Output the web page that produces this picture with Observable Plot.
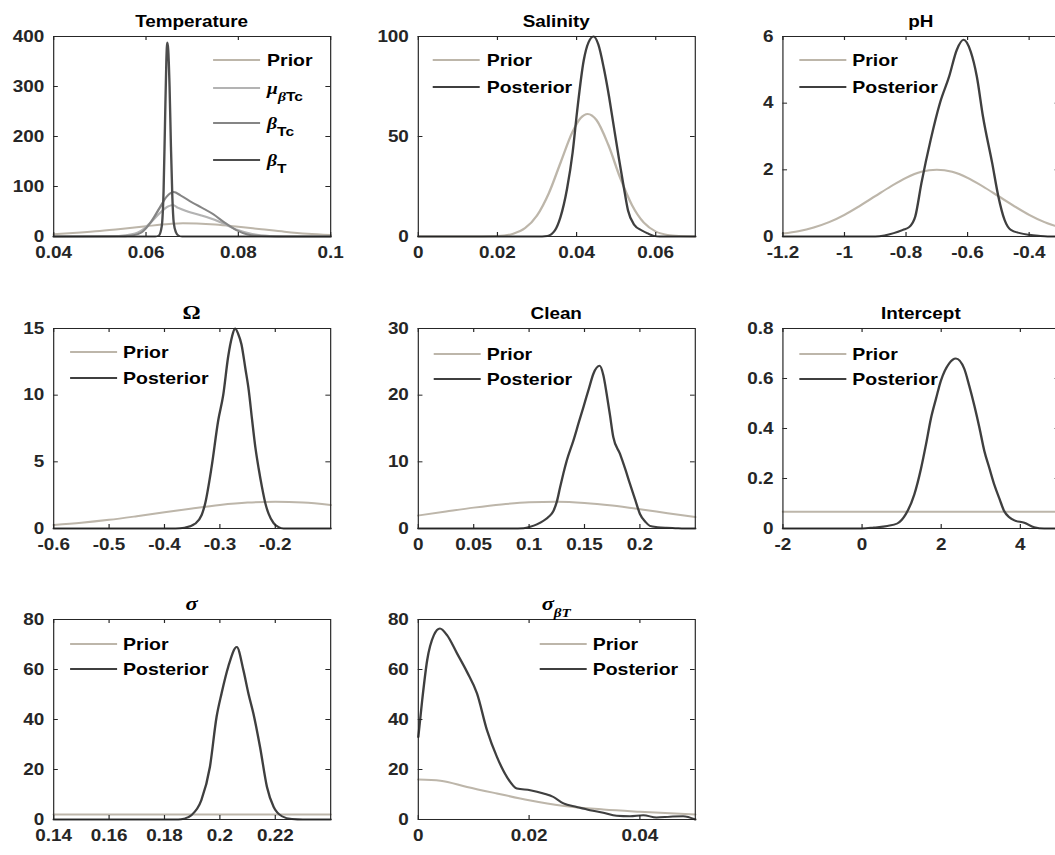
<!DOCTYPE html>
<html><head><meta charset="utf-8">
<script src="https://cdn.jsdelivr.net/npm/d3@7"></script>
<script src="https://cdn.jsdelivr.net/npm/@observablehq/plot@0.6"></script>
<style>
html,body{margin:0;padding:0;background:#fff;overflow:hidden;width:1055px;height:855px;}
#fig{position:absolute;left:0;top:0;width:894px;height:855px;transform:scaleX(1.18);transform-origin:0 0;}
#fig svg{position:absolute;overflow:visible;}
</style></head><body><div id="fig"></div>
<script>
// ---------------- data ----------------
const tempXTicks = [0.04, 0.06, 0.08, 0.1];
const tempYTicks = [0, 100, 200, 300, 400];
const tempPrior = [[0.04,4.5],[0.045,7.5],[0.05,11],[0.055,15.5],[0.06,20.5],[0.065,25],[0.068,26.5],[0.071,26],[0.075,24],[0.08,19.5],[0.085,14.5],[0.09,9.5],[0.095,5.5],[0.1,3]];
const tempMu = [[0.04,0],[0.052,0.5],[0.056,3],[0.059,12],[0.061,28],[0.063,47],[0.0648,60],[0.0658,63],[0.067,57],[0.069,50],[0.072,42],[0.0755,31],[0.0795,14],[0.083,5],[0.087,1],[0.09,0],[0.1,0]];
const tempBetaTc = [[0.04,0],[0.054,0.3],[0.057,2],[0.059,8],[0.061,28],[0.063,58],[0.0645,80],[0.066,89],[0.0675,82],[0.07,68],[0.072,58],[0.0745,45],[0.077,28],[0.0795,13],[0.082,4],[0.085,0.8],[0.088,0],[0.1,0]];
const tempBetaT = [[0.04,0],[0.062,0],[0.0628,2],[0.0634,20],[0.0638,90],[0.0641,220],[0.0644,350],[0.0646,388],[0.0648,375],[0.0651,300],[0.0654,180],[0.0657,80],[0.066,28],[0.0665,8],[0.067,2],[0.0678,0],[0.1,0]];

const salXTicks = [0, 0.02, 0.04, 0.06];
const salYTicks = [0, 50, 100];
const salPrior = [[0,0],[0.016,0.03],[0.02,0.2],[0.024,1.4],[0.027,4.2],[0.03,10.5],[0.033,21.7],[0.036,37.2],[0.039,52.4],[0.041,59.2],[0.0428,61.3],[0.045,58.3],[0.048,45.9],[0.051,29.4],[0.054,15.7],[0.057,6.9],[0.06,2.5],[0.063,0.75],[0.066,0.2],[0.07,0]];
const salPost = [[0,0],[0.03,0],[0.0326,0.3],[0.0345,3],[0.0359,9.5],[0.0376,24],[0.039,42],[0.0401,62],[0.0418,88],[0.043,97],[0.0443,100],[0.0455,96],[0.0469,84],[0.0482,70],[0.0494,55],[0.0507,39],[0.0519,25],[0.053,13],[0.0545,6],[0.0565,3],[0.058,1.5],[0.0595,0.3],[0.061,0],[0.07,0]];

const phXTicks = [-1.2, -1, -0.8, -0.6, -0.4];
const phYTicks = [0, 2, 4, 6];
const phPrior = [[-1.2,0.09],[-1.15,0.16],[-1.1,0.27],[-1.05,0.43],[-1,0.65],[-0.95,0.92],[-0.9,1.21],[-0.85,1.5],[-0.8,1.76],[-0.75,1.94],[-0.7,2],[-0.65,1.94],[-0.6,1.76],[-0.55,1.5],[-0.5,1.21],[-0.45,0.92],[-0.4,0.65],[-0.35,0.43],[-0.3,0.27]];
const phPost = [[-1.2,0],[-0.9,0],[-0.87,0.03],[-0.84,0.1],[-0.81,0.2],[-0.79,0.28],[-0.77,0.6],[-0.75,1.6],[-0.72,2.9],[-0.69,4.0],[-0.66,4.8],[-0.635,5.6],[-0.613,5.9],[-0.59,5.55],[-0.57,4.8],[-0.55,3.6],[-0.52,2.2],[-0.5,1.2],[-0.48,0.5],[-0.46,0.2],[-0.43,0.1],[-0.4,0.05],[-0.37,0.02],[-0.34,0],[-0.3,0]];

const omegaXTicks = [-0.6, -0.5, -0.4, -0.3, -0.2];
const omegaYTicks = [0, 5, 10, 15];
const omegaPrior = [[-0.6,0.27],[-0.55,0.43],[-0.5,0.65],[-0.45,0.92],[-0.4,1.21],[-0.35,1.5],[-0.3,1.76],[-0.25,1.94],[-0.2,2.0],[-0.15,1.94],[-0.1,1.76]];
const omegaPost = [[-0.6,0],[-0.38,0],[-0.364,0.05],[-0.345,0.35],[-0.333,1],[-0.327,1.8],[-0.315,4.6],[-0.303,8.1],[-0.294,10],[-0.285,12.9],[-0.278,14.4],[-0.2727,15],[-0.267,14.6],[-0.261,13.8],[-0.254,12],[-0.248,10.4],[-0.242,8.2],[-0.236,6.1],[-0.23,4.5],[-0.224,3.1],[-0.218,1.9],[-0.212,1.1],[-0.203,0.4],[-0.194,0.1],[-0.185,0],[-0.1,0]];

const cleanXTicks = [0, 0.05, 0.1, 0.15, 0.2];
const cleanYTicks = [0, 10, 20, 30];
const cleanPrior = [[0,1.95],[0.025,2.55],[0.05,3.13],[0.075,3.61],[0.1,3.92],[0.125,4.0],[0.15,3.83],[0.175,3.44],[0.2,2.9],[0.225,2.3],[0.25,1.72]];
const cleanPost = [[0,0],[0.085,0],[0.095,0.05],[0.101,0.25],[0.107,0.6],[0.113,1.15],[0.118,1.8],[0.122,2.65],[0.125,4],[0.128,6.2],[0.131,8.3],[0.134,10.2],[0.14,13.2],[0.145,16],[0.149,18.2],[0.154,21],[0.158,23.2],[0.1637,24.4],[0.167,23],[0.17,20.2],[0.173,17],[0.176,13.7],[0.182,11.2],[0.187,8.8],[0.191,6.7],[0.196,4.2],[0.2,2.2],[0.205,1],[0.209,0.4],[0.216,0.2],[0.224,0.1],[0.232,0.05],[0.24,0],[0.25,0]];

const interceptXTicks = [-2, 0, 2, 4];
const interceptYTicks = [0, 0.2, 0.4, 0.6, 0.8];
const interceptPrior = [[-2,0.0667],[5,0.0667]];
const interceptPost = [[-2,0],[0,0],[0.3,0.004],[0.64,0.01],[0.89,0.02],[1.1,0.056],[1.32,0.136],[1.49,0.24],[1.62,0.34],[1.74,0.44],[1.87,0.52],[1.99,0.59],[2.2,0.66],[2.37,0.68],[2.58,0.64],[2.71,0.57],[2.84,0.49],[2.97,0.4],[3.09,0.31],[3.22,0.24],[3.34,0.176],[3.47,0.12],[3.59,0.07],[3.72,0.045],[3.85,0.032],[4.1,0.023],[4.35,0.005],[4.6,0],[5,0]];

const sigmaXTicks = [0.14, 0.16, 0.18, 0.2, 0.22];
const sigmaYTicks = [0, 20, 40, 60, 80];
const sigmaPrior = [[0.14,2],[0.24,2]];
const sigmaPost = [[0.14,0],[0.185,0],[0.187,0.3],[0.1897,1.7],[0.1933,7.7],[0.1964,21],[0.1988,41],[0.2006,50.4],[0.203,61],[0.2061,69],[0.2085,59.7],[0.2103,50.4],[0.2121,42.4],[0.2145,29],[0.217,13],[0.2194,5],[0.2224,1.3],[0.226,0.2],[0.23,0],[0.24,0]];

const sbtXTicks = [0, 0.02, 0.04];
const sbtYTicks = [0, 20, 40, 60, 80];
const sbtPrior = [[0,16],[0.004,15.5],[0.0088,13],[0.0142,10.4],[0.02,7.7],[0.026,5.5],[0.0334,4],[0.04,3.1],[0.05,2]];
const sbtPost = [[0,33],[0.0007,47.7],[0.0016,63.7],[0.0028,73.7],[0.0039,76.4],[0.0052,73.7],[0.007,66.4],[0.0088,59],[0.0106,50.4],[0.0124,35.7],[0.0142,25],[0.016,17],[0.0178,12.4],[0.0202,11.7],[0.0226,10.4],[0.0244,9],[0.0262,6.4],[0.0286,5],[0.031,3.7],[0.0334,2.7],[0.0358,1.5],[0.0382,1.3],[0.0406,1.7],[0.043,0.8],[0.0454,1.1],[0.0478,1.3],[0.05,0]];

// ---------------- styles & layout ----------------
const S = 1.18;              // horizontal stretch of the whole figure
const FW = 277 / S, FH = 200;
const mL = 50, mR = 14, mT = 42, mB = 34;
const TICK = 4;
const SANS = "'Liberation Sans', Arial, Helvetica, sans-serif";
const SERIF = "'Liberation Serif', 'Times New Roman', serif";
const INK = "#262626";
const C = {prior: "#bdb6aa", post: "#3f3f3f", mu: "#b3b3b3", betaTc: "#858585", betaT: "#4d4d4d"};

const priorPost = (prior, post) => [
  {label: [{t: "Prior"}], data: prior, color: C.prior},
  {label: [{t: "Posterior"}], data: post, color: C.post}
];

const panels = [
  {left: 53, top: 36, xd: [0.04, 0.1], xt: tempXTicks, yd: [0, 400], yt: tempYTicks,
   title: [{t: "Temperature"}],
   series: [
     {label: [{t: "Prior"}], data: tempPrior, color: C.prior},
     {label: [{t: "μ", serif: 1, it: 1}, {t: "β", serif: 1, it: 1, sub: 1}, {t: "Tc", sub: 1}], data: tempMu, color: C.mu},
     {label: [{t: "β", serif: 1, it: 1}, {t: "Tc", sub: 1}], data: tempBetaTc, color: C.betaTc},
     {label: [{t: "β", serif: 1, it: 1}, {t: "T", sub: 1}], data: tempBetaT, color: C.betaT}
   ],
   legend: {x: 160, tx: 214, ys: [24, 52, 87, 124]}},
  {left: 418, top: 36, xd: [0, 0.07], xt: salXTicks, yd: [0, 100], yt: salYTicks,
   title: [{t: "Salinity"}], series: priorPost(salPrior, salPost),
   legend: {x: 15, tx: 69, ys: [24, 51]}},
  {left: 782, top: 36, xd: [-1.2, -0.3], xt: phXTicks, yd: [0, 6], yt: phYTicks,
   title: [{t: "pH"}], series: priorPost(phPrior, phPost),
   legend: {x: 17, tx: 70, ys: [24, 51]}},
  {left: 53, top: 327.5, xd: [-0.6, -0.1], xt: omegaXTicks, yd: [0, 15], yt: omegaYTicks,
   title: [{t: "Ω", serif: 1, big: 1}], series: priorPost(omegaPrior, omegaPost),
   legend: {x: 17, tx: 70, ys: [24, 50]}},
  {left: 418, top: 327.5, xd: [0, 0.25], xt: cleanXTicks, yd: [0, 30], yt: cleanYTicks,
   title: [{t: "Clean"}], series: priorPost(cleanPrior, cleanPost),
   legend: {x: 16, tx: 69, ys: [26, 51]}},
  {left: 782, top: 327.5, xd: [-2, 5], xt: interceptXTicks, yd: [0, 0.8], yt: interceptYTicks,
   title: [{t: "Intercept"}], series: priorPost(interceptPrior, interceptPost),
   legend: {x: 17, tx: 70, ys: [26, 51]}},
  {left: 53, top: 619, xd: [0.14, 0.24], xt: sigmaXTicks, yd: [0, 80], yt: sigmaYTicks,
   title: [{t: "σ", serif: 1, it: 1, big: 1}], series: priorPost(sigmaPrior, sigmaPost),
   legend: {x: 17, tx: 70, ys: [25, 50]}},
  {left: 418, top: 619, xd: [0, 0.05], xt: sbtXTicks, yd: [0, 80], yt: sbtYTicks,
   title: [{t: "σ", serif: 1, it: 1, big: 1}, {t: "βT", serif: 1, it: 1, sub: 1}], series: priorPost(sbtPrior, sbtPost),
   legend: {x: 122, tx: 175, ys: [25, 50]}}
];

const fmt = d => String(d);

function richText(sel, parts, size) {
  let inSub = false;
  parts.forEach(p => {
    const fs = p.sub ? size * 0.8 : (p.big ? size * 1.2 : size);
    const ts = sel.append("tspan").text(p.t)
      .attr("font-family", p.serif ? SERIF : SANS)
      .attr("font-style", p.it ? "italic" : "normal")
      .attr("font-weight", "bold")
      .attr("font-size", fs);
    if (p.sub && !inSub) { ts.attr("dy", size * 0.45); inSub = true; }
    else if (!p.sub && inSub) { ts.attr("dy", -size * 0.45); inSub = false; }
  });
}

const fig = document.getElementById("fig");
for (const p of panels) {
  const marks = p.series.map(s => Plot.line(s.data, {x: d => d[0], y: d => d[1], stroke: s.color, strokeWidth: 2, curve: "monotone-x"}));
  marks.push(
    Plot.frame({stroke: INK, strokeWidth: 1}),
    // inward ticks on all four sides (MATLAB box style)
    Plot.tickX(p.xt, {x: d => d, insetTop: FH - TICK, stroke: INK, strokeWidth: 1}),
    Plot.tickX(p.xt, {x: d => d, insetBottom: FH - TICK, stroke: INK, strokeWidth: 1}),
    Plot.tickY(p.yt, {y: d => d, insetRight: FW - TICK, stroke: INK, strokeWidth: 1}),
    Plot.tickY(p.yt, {y: d => d, insetLeft: FW - TICK, stroke: INK, strokeWidth: 1}),
    Plot.axisX({ticks: p.xt, tickSize: 0, tickPadding: 10, tickFormat: fmt, label: null}),
    Plot.axisY({ticks: p.yt, tickSize: 0, tickPadding: 8, tickFormat: fmt, label: null})
  );
  const svg = Plot.plot({
    width: mL + FW + mR, height: mT + FH + mB,
    marginLeft: mL, marginRight: mR, marginTop: mT, marginBottom: mB,
    style: {fontFamily: SANS, fontWeight: "bold", fontSize: "16px", color: INK, background: "transparent", overflow: "visible"},
    x: {domain: p.xd},
    y: {domain: p.yd},
    marks
  });
  svg.style.left = (p.left / S - mL) + "px";
  svg.style.top = (p.top - mT) + "px";
  const root = d3.select(svg);
  // title
  const tt = root.append("text").attr("x", mL + FW / 2).attr("y", mT - 9)
    .attr("text-anchor", "middle").attr("fill", "#000");
  richText(tt, p.title, 16);
  // legend
  const lg = root.append("g").attr("transform", `translate(${mL + p.legend.x / S},${mT})`);
  p.series.forEach((s, i) => {
    const y = p.legend.ys[i];
    lg.append("line").attr("x1", 0).attr("x2", 47 / S).attr("y1", y).attr("y2", y)
      .attr("stroke", s.color).attr("stroke-width", 2);
    const t = lg.append("text").attr("x", (p.legend.tx - p.legend.x) / S).attr("y", y + 6)
      .attr("text-anchor", "start").attr("fill", "#000");
    richText(t, s.label, 16.5);
  });
  fig.appendChild(svg);
}
</script></body></html>
